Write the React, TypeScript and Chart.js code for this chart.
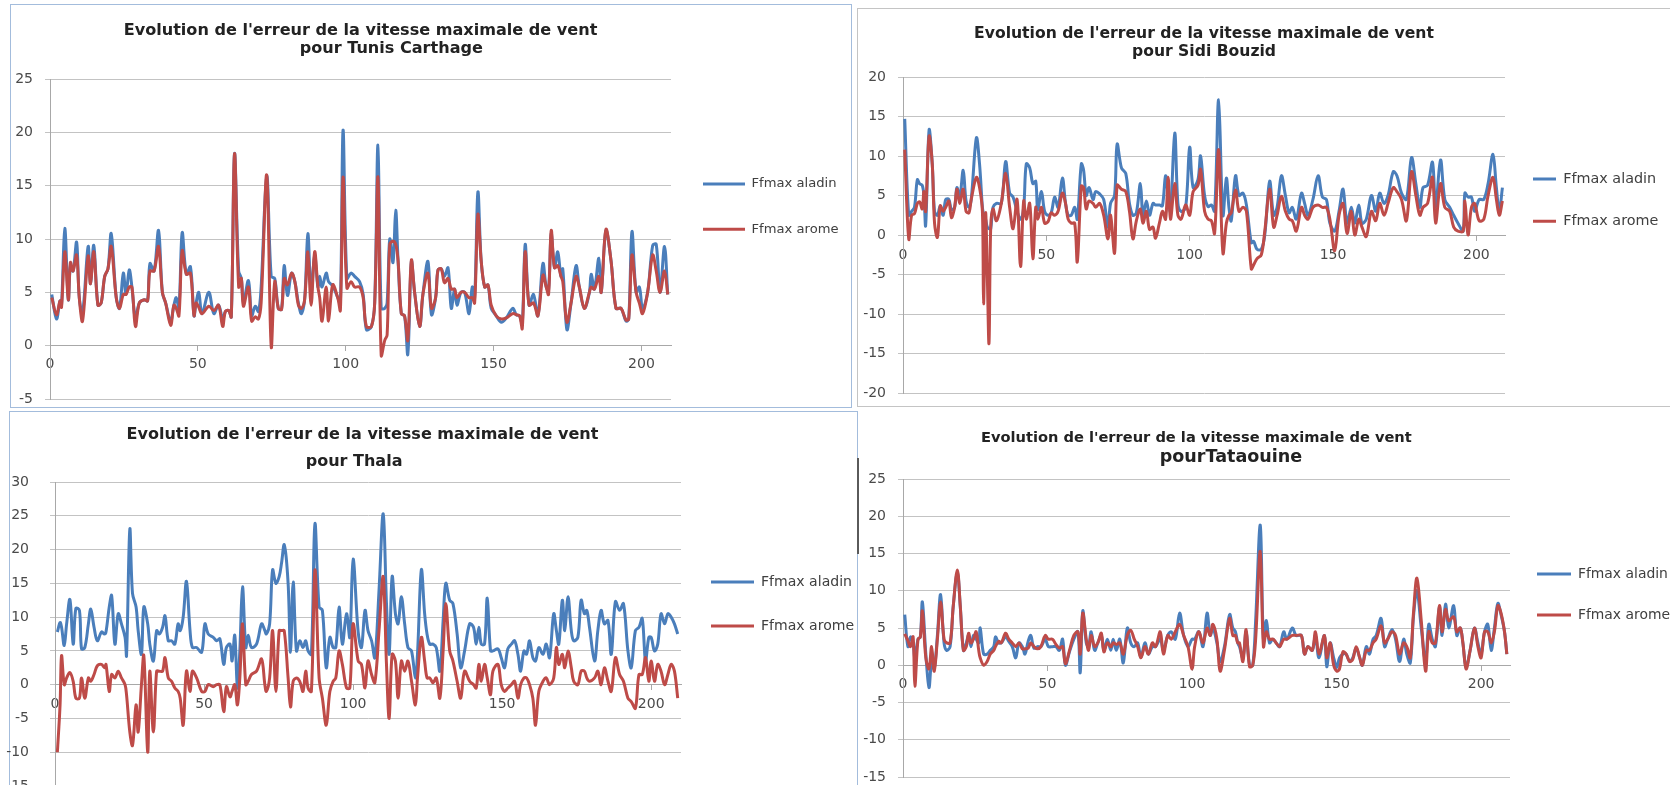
import React, { useEffect, useRef } from "react";
import { Chart, registerables } from "chart.js";

Chart.register(...registerables);

const SERIES_LABELS = ["Ffmax aladin", "Ffmax arome"];
const SERIES_COLORS = ["#4a7ebb", "#be4b48"];
const TITLE_MAIN = "Evolution de l'erreur de la vitesse maximale de vent";
const X_MIN = 0;
const X_MAX = 210;
const X_STEP = 50;
const Y_STEP = 5;

const GRID = "#c3c3c3";
const AXIS = "#a8a8a8";
const TICK_COLOR = "#4a4a4a";
const TITLE_COLOR = "#222222";
const LEGEND_COLOR = "#404040";
const FONT = "'DejaVu Sans', sans-serif";

// ---------------- Tunis Carthage ----------------
const tunisX = [
  0.6, 2.2, 3.4, 3.9, 5.0, 6.2, 6.9, 7.8, 9.0, 9.9,
  11.0, 12.9, 13.7, 14.8, 16.2, 17.3, 18.5, 19.6, 20.7, 22.4,
  23.5, 24.8, 25.7, 26.8, 27.7, 28.9, 30.2, 31.9, 33.0, 33.8,
  35.2, 36.7, 38.0, 39.1, 40.8, 41.9, 42.7, 43.6, 44.7, 46.1,
  47.5, 48.7, 49.4, 50.3, 51.4, 53.7, 55.4, 57.0, 58.4, 59.3,
  60.4, 61.3, 62.4, 63.8, 64.7, 65.4, 67.1, 68.2, 69.4, 70.5,
  71.4, 73.3, 74.8, 76.0, 77.2, 78.3, 79.2, 80.3, 81.7, 82.8,
  84.0, 85.0, 86.1, 87.2, 88.3, 89.5, 90.6, 91.2, 92.0, 93.4,
  94.2, 95.6, 97.3, 98.2, 99.1, 100.4, 101.8, 103.0, 104.7, 105.9,
  107.0, 108.7, 109.8, 110.9, 112.0, 113.2, 114.0, 114.9, 116.0, 116.9,
  117.7, 118.8, 119.9, 121.0, 122.2, 123.3, 125.0, 126.1, 127.8, 129.0,
  130.4, 131.2, 132.3, 133.4, 134.6, 135.7, 136.8, 137.6, 139.0, 140.2,
  141.7, 142.8, 143.6, 144.7, 145.8, 147.0, 148.1, 149.2, 150.9, 152.6,
  154.3, 156.5, 157.7, 158.8, 159.7, 160.7, 162.0, 163.5, 165.0, 166.7,
  167.8, 168.6, 169.5, 170.6, 171.7, 172.8, 173.4, 174.8, 176.2, 177.9,
  179.0, 180.7, 182.4, 183.0, 184.1, 185.6, 186.4, 188.0, 189.7, 191.4,
  193.1, 194.8, 195.7, 196.8, 198.2, 199.3, 200.4, 202.1, 203.8, 205.0,
  206.3, 207.8, 208.9,
];
const tunisAladin = [
  4.8, 2.5, 4.2, 3.8, 11.0, 4.3, 7.5, 7.0, 9.7, 4.5,
  3.0, 9.3, 5.8, 9.4, 3.8, 4.0, 6.5, 7.2, 10.5, 4.5,
  3.5, 6.8, 4.8, 7.1, 5.5, 2.5, 4.0, 4.3, 4.2, 7.7,
  7.0, 10.8, 5.0, 4.0, 2.3, 3.8, 4.5, 3.5, 10.6, 6.7,
  7.4, 2.8, 4.0, 5.0, 3.0, 5.0, 3.0, 3.8, 2.5, 3.2,
  3.3, 2.7, 18.0, 7.0, 6.3, 4.0, 6.1, 2.8, 3.7, 3.2,
  5.5, 15.9, 6.5, 6.3, 3.5, 3.4, 7.5, 4.7, 6.8, 6.0,
  4.0, 3.0, 4.3, 10.5, 5.0, 8.5, 5.5, 6.5, 5.5, 6.8,
  6.0, 5.6, 4.5, 4.0, 20.2, 6.3, 6.8, 6.5, 6.0, 4.8,
  1.5, 1.8, 4.0, 18.8, 3.5, 3.5, 4.0, 10.0, 7.8, 12.7,
  8.0, 3.0, 2.8, -0.8, 7.9, 5.0, 1.8, 4.8, 7.9, 2.9,
  4.5, 7.1, 7.2, 6.5, 7.3, 3.5, 5.3, 3.8, 5.0, 5.0,
  3.0, 5.5, 4.5, 14.4, 8.0, 5.5, 5.7, 3.5, 2.8, 2.2,
  2.6, 3.5, 2.9, 2.8, 2.0, 9.5, 3.8, 4.8, 2.8, 7.7,
  5.5, 5.2, 10.5, 7.3, 8.8, 6.5, 7.2, 1.5, 4.0, 7.5,
  5.5, 3.5, 5.0, 6.7, 5.3, 8.2, 5.0, 10.8, 8.0, 3.5,
  3.5, 2.3, 2.5, 10.7, 5.0, 5.5, 3.5, 5.0, 9.4, 9.5,
  5.0, 9.3, 4.8,
];
const tunisArome = [
  4.5, 2.9, 4.2, 3.6, 8.8, 4.3, 7.8, 7.0, 8.5, 4.5,
  2.3, 8.4, 5.8, 8.8, 3.8, 4.0, 6.5, 7.2, 9.3, 4.5,
  3.5, 4.8, 4.8, 5.5, 5.5, 1.8, 4.0, 4.3, 4.2, 7.0,
  7.0, 9.3, 5.0, 4.0, 1.9, 3.8, 3.5, 2.8, 8.9, 6.7,
  6.8, 2.8, 4.0, 3.6, 3.0, 3.7, 3.3, 3.8, 1.8, 3.2,
  3.3, 2.7, 18.0, 5.5, 6.3, 3.7, 5.5, 2.3, 2.7, 2.5,
  4.0, 16.0, -0.1, 6.0, 3.5, 3.4, 6.3, 5.7, 6.8, 6.0,
  3.8, 3.5, 4.3, 8.8, 3.8, 8.8, 5.5, 4.5, 2.3, 5.5,
  2.3, 5.7, 4.5, 3.3, 15.8, 5.4, 6.0, 5.5, 5.5, 4.5,
  1.8, 1.8, 4.0, 15.8, -0.9, 0.5, 1.0, 9.5, 9.8, 9.5,
  8.0, 3.0, 2.8, 0.5, 8.0, 5.0, 1.8, 4.8, 6.8, 3.5,
  4.5, 7.1, 7.2, 5.9, 6.3, 5.3, 5.3, 4.5, 5.0, 5.0,
  4.5, 4.5, 4.0, 12.3, 8.0, 5.5, 5.7, 3.8, 2.8, 2.5,
  2.6, 3.0, 2.9, 2.8, 1.6, 8.8, 3.8, 4.0, 2.8, 6.6,
  5.5, 4.8, 10.8, 7.3, 7.5, 6.5, 6.0, 2.2, 4.0, 6.5,
  5.5, 3.5, 5.0, 5.5, 5.3, 6.5, 5.0, 10.9, 8.0, 3.5,
  3.5, 2.4, 2.5, 8.5, 5.0, 4.0, 3.0, 5.0, 8.5, 7.0,
  5.0, 7.0, 4.8,
];

// ---------------- Sidi Bouzid ----------------
const sidiX = [
  0.6, 2.0, 3.0, 4.0, 5.0, 5.8, 6.7, 7.3, 7.9, 9.1,
  10.2, 11.0, 12.0, 13.0, 14.0, 14.9, 16.0, 16.9, 18.0, 18.8,
  19.8, 21.0, 22.0, 23.0, 23.8, 25.6, 26.7, 27.7, 28.1, 28.8,
  29.4, 30.0, 30.6, 31.4, 32.6, 34.3, 35.8, 37.2, 38.4, 39.8,
  41.0, 42.1, 43.0, 44.2, 45.3, 46.3, 47.0, 48.3, 49.4, 50.6,
  51.7, 52.9, 54.1, 55.6, 56.7, 57.6, 58.7, 59.9, 60.8, 62.2,
  63.0, 63.9, 64.9, 66.3, 67.2, 68.6, 70.0, 71.5, 72.4, 73.8,
  74.7, 76.2, 77.7, 79.0, 80.2, 81.4, 82.8, 83.7, 84.9, 86.0,
  87.2, 88.1, 89.5, 90.5, 91.6, 92.5, 93.3, 94.8, 95.9, 97.0,
  98.6, 100.0, 101.2, 102.9, 103.8, 105.2, 106.4, 107.6, 108.7, 110.1,
  111.6, 112.8, 113.7, 114.5, 116.0, 117.2, 118.6, 119.8, 121.5, 122.3,
  123.5, 125.0, 126.2, 127.9, 129.3, 130.5, 132.0, 133.4, 134.7, 135.8,
  137.2, 139.0, 140.1, 141.3, 143.0, 144.8, 146.3, 147.7, 148.9, 150.6,
  152.1, 153.5, 154.9, 156.4, 157.6, 159.0, 160.1, 161.6, 163.4, 164.9,
  166.3, 167.8, 169.2, 171.0, 172.3, 173.9, 175.6, 177.4, 178.9, 180.3,
  181.4, 183.0, 184.7, 185.8, 187.5, 189.0, 190.7, 192.1, 193.6, 195.4,
  196.0, 197.1, 198.3, 199.4, 201.0, 202.6, 204.1, 205.8, 207.0, 208.0,
  209.1,
];
const sidiAladin = [
  14.7, 2.5, 3.0, 3.5, 7.0, 6.5, 6.3, 5.0, 1.2, 13.3,
  9.0, 3.0, 2.5, 3.7, 2.5, 4.5, 4.5, 3.2, 3.5, 6.0,
  4.8, 8.2, 4.3, 3.5, 4.5, 12.3, 9.0, 3.5, 2.7, 2.0,
  1.0, 0.8, 0.8, 3.5, 4.0, 4.0, 9.3, 5.3, 4.8, 3.0,
  2.0, 3.5, 9.0, 8.5, 6.5, 6.8, 3.2, 5.5, 3.0, 2.5,
  2.8, 4.8, 3.5, 7.2, 4.0, 2.5, 2.5, 3.5, 2.0, 9.0,
  8.2, 5.0, 6.0, 4.5, 5.5, 5.2, 4.5, 1.0, 4.0, 5.0,
  11.5, 8.5, 7.8, 4.0, 2.5, 2.8, 6.5, 2.5, 4.3, 2.5,
  4.0, 3.8, 3.8, 3.7, 7.5, 5.0, 3.0, 12.9, 4.0, 3.0,
  3.5, 11.1, 6.0, 7.0, 10.0, 5.0, 3.6, 3.8, 3.0, 17.1,
  2.5, 7.2, 3.5, 1.8, 7.5, 5.0, 5.3, 3.8, -1.0, -0.8,
  -1.8, -1.8, 0.0, 6.8, 2.5, 3.5, 7.5, 5.0, 2.8, 3.5,
  2.0, 5.3, 4.0, 2.5, 4.5, 7.5, 4.8, 4.5, 1.5, 0.5,
  3.0, 5.8, 1.5, 3.5, 1.5, 3.8, 1.5, 2.0, 5.0, 3.0,
  5.3, 4.0, 5.0, 8.0, 7.5, 5.3, 4.5, 9.8, 6.5, 3.5,
  6.0, 6.3, 9.2, 3.5, 9.5, 4.5, 3.5, 2.5, 1.5, 0.5,
  5.3, 4.8, 4.8, 3.0, 4.5, 4.5, 6.5, 10.2, 6.0, 3.0,
  6.0,
];
const sidiArome = [
  10.8, -0.5, 2.5, 2.7, 4.0, 4.2, 3.3, 5.5, 3.0, 12.5,
  9.0, 1.5, -0.3, 3.7, 3.0, 3.5, 4.3, 2.2, 3.5, 5.8,
  4.0, 5.8, 3.0, 2.8, 4.5, 7.3, 6.0, 3.0, -8.7, 2.8,
  -5.0, -13.7, 1.0, 3.3, 1.8, 4.0, 7.8, 3.5, 0.8, 4.5,
  -4.0, 4.3, 2.0, 4.0, -3.0, 3.5, 2.0, 3.5, 1.5, 1.7,
  2.8, 2.5, 3.0, 5.3, 4.0, 2.0, 1.5, 1.5, -3.4, 6.2,
  6.0, 3.3, 4.3, 4.0, 3.5, 4.0, 2.5, -0.5, 2.5, -2.3,
  6.3, 5.8, 5.5, 3.0, -0.5, 1.8, 3.3, 1.5, 3.0, 0.7,
  1.0, -0.4, 1.6, 3.0, 2.0, 7.3, 2.0, 6.5, 2.5, 2.0,
  3.8, 2.5, 5.5, 6.3, 8.3, 3.0, 2.0, 1.8, 0.2, 10.8,
  -2.3, 1.5, 2.5, 2.8, 5.7, 3.0, 3.5, 3.0, -4.3, -3.8,
  -3.0, -2.5, 0.5, 5.8, 1.0, 2.5, 4.9, 3.0, 2.0, 1.8,
  0.5, 3.5, 2.5, 2.0, 3.5, 3.8, 3.5, 3.5, 2.0, -2.0,
  2.5, 4.0, 0.2, 3.0, 0.0, 2.0, 1.0, -0.2, 3.0, 1.8,
  4.0, 2.5, 4.0, 6.0, 5.5, 4.5, 1.8, 8.0, 5.0, 2.5,
  3.5, 4.0, 7.3, 1.5, 6.5, 3.5, 3.0, 1.0, 0.5, 0.5,
  4.3, 0.0, 3.5, 4.0, 1.8, 2.0, 5.0, 7.3, 4.5, 2.5,
  4.3,
];

// ---------------- Thala ----------------
const thalaX = [
  0.8, 1.7, 2.2, 3.1, 3.9, 5.0, 6.1, 7.0, 8.2, 8.9,
  10.0, 11.2, 12.0, 13.1, 14.2, 15.6, 16.6, 17.1, 18.2, 19.0,
  20.1, 21.2, 22.3, 23.5, 24.0, 25.1, 26.0, 27.2, 27.9, 29.0,
  29.8, 31.1, 31.8, 33.0, 34.1, 35.0, 36.1, 36.9, 38.0, 39.1,
  40.2, 41.3, 42.0, 43.0, 44.1, 45.3, 46.1, 47.5, 49.2, 50.3,
  51.4, 53.1, 54.2, 55.3, 56.6, 57.5, 58.7, 59.4, 60.3, 61.2,
  62.0, 62.9, 64.0, 64.8, 65.9, 67.6, 69.3, 70.4, 70.9, 72.0,
  73.0, 74.1, 75.2, 76.0, 76.9, 78.2, 79.0, 79.9, 81.0, 82.1,
  83.2, 84.1, 84.9, 86.0, 87.2, 88.6, 89.7, 91.0, 92.2, 93.3,
  94.2, 95.3, 96.4, 97.8, 98.9, 100.0, 101.7, 102.8, 104.0, 105.0,
  106.2, 107.3, 108.7, 110.1, 111.2, 112.1, 113.1, 114.2, 115.1, 116.2,
  117.3, 118.4, 119.6, 120.9, 121.6, 122.9, 124.0, 124.8, 125.7, 126.8,
  127.9, 129.1, 130.2, 131.1, 132.4, 133.5, 134.9, 136.1, 137.4, 139.1,
  140.4, 141.3, 142.2, 143.0, 144.1, 145.0, 146.1, 146.9, 148.6, 149.7,
  150.8, 151.9, 153.1, 154.2, 155.3, 156.2, 157.3, 158.2, 159.2, 160.3,
  161.2, 162.3, 163.7, 164.8, 165.9, 167.3, 168.2, 169.0, 170.2, 171.0,
  172.1, 173.2, 174.0, 175.4, 176.5, 177.6, 178.4, 179.3, 181.0, 182.1,
  183.2, 184.3, 185.5, 186.6, 188.0, 189.4, 190.7, 192.2, 193.3, 194.7,
  195.9, 197.0, 198.1, 199.2, 200.0, 201.1, 202.2, 203.3, 204.5, 205.6,
  206.7, 207.8, 208.9,
];
const thalaAladin = [
  7.8, 9.2, 8.5, 5.8, 9.0, 12.6, 6.0, 11.3, 11.0, 5.3,
  5.5, 9.0, 11.2, 8.5, 6.5, 7.8, 7.5, 7.8, 11.5, 13.2,
  6.0, 10.5, 9.0, 7.0, 4.3, 23.0, 13.5, 11.5, 8.0, 4.5,
  11.5, 9.0, 6.0, 3.5, 8.0, 7.5, 8.5, 10.2, 6.5, 6.5,
  6.0, 9.0, 8.0, 10.0, 15.3, 8.0, 5.5, 5.5, 4.8, 9.0,
  7.5, 7.0, 6.5, 6.8, 3.0, 5.5, 6.0, 3.5, 7.3, -0.5,
  5.0, 14.5, 5.5, 7.3, 5.5, 6.0, 9.0, 8.0, 7.5, 9.0,
  17.0, 15.0, 16.0, 18.0, 20.7, 15.0, 4.8, 15.2, 5.0, 6.5,
  5.5, 6.5, 5.0, 4.5, 23.8, 11.5, 11.0, 2.5, 7.0, 5.5,
  5.5, 11.5, 6.0, 10.5, 7.0, 18.6, 7.8, 5.5, 11.0, 8.0,
  6.5, 4.0, 14.0, 25.3, 12.0, 4.5, 16.0, 10.5, 9.0, 13.0,
  9.0, 5.5, 5.0, 1.0, 4.5, 17.0, 10.5, 7.5, 6.0, 6.0,
  5.5, 2.0, 9.5, 15.0, 12.5, 12.0, 7.5, 2.5, 5.0, 9.0,
  8.5, 6.0, 8.5, 6.0, 6.0, 12.8, 5.0, 5.0, 5.3, 4.0,
  2.5, 5.3, 6.0, 6.5, 4.5, 2.0, 5.0, 4.5, 6.5, 4.0,
  3.5, 5.5, 4.5, 6.0, 4.0, 10.5, 8.0, 6.0, 12.5, 8.0,
  13.0, 8.0, 6.5, 7.0, 12.5, 10.5, 11.0, 8.5, 3.5, 8.0,
  11.0, 9.0, 9.5, 4.5, 12.3, 11.0, 12.0, 5.0, 2.5, 8.0,
  8.5, 9.8, 3.5, 7.0, 7.0, 5.0, 6.0, 10.5, 9.0, 10.5,
  10.0, 9.0, 7.5,
];
const thalaArome = [
  -10.0, -3.0, 4.3, 0.0, 1.0, 1.8, 0.5, -2.0, -2.0, 1.0,
  -2.0, 1.0, 0.5, 1.5, 2.8, 3.0, 2.5, 3.0, -1.0, 1.5,
  1.0, 2.0, 1.0, 0.0, -1.5, -7.0, -9.0, -3.0, -7.0, 0.0,
  4.3, -10.0, 2.0, -7.0, 2.0, 2.0, 2.0, 4.0, 1.0, 0.5,
  -0.5, -1.0, -2.0, -6.0, 2.0, -1.0, 2.0, 1.0, -1.0, -1.0,
  0.0, -0.3, 0.0, 0.0, -4.0, -0.3, -1.8, -1.0, 0.0, -3.0,
  1.0, 9.0, 0.0, 0.5, 1.5, 2.0, 3.8, 0.0, -1.0, 1.0,
  8.0, -1.0, 8.0, 8.0, 8.0, 1.0, -3.3, 0.5, 1.0, 0.5,
  -1.0, 2.0, -0.5, -1.0, 17.0, 1.0, -2.0, -6.0, -1.0, 0.5,
  1.0, 5.0, 3.0, -0.5, -0.5, 9.0, 3.5, 3.0, -0.5, 3.5,
  1.5, 0.3, 8.0, 16.0, 3.0, -5.0, 4.5, 3.5, -2.0, 3.5,
  2.0, 3.5, 0.5, -3.0, 1.0, 7.0, 3.5, 1.0, 1.0, 0.3,
  1.0, -2.0, 5.0, 12.0, 5.0, 3.5, 0.5, -2.0, 2.0, 0.5,
  0.0, -0.5, 3.0, 0.5, 3.0, 1.0, -1.5, 2.0, 3.0, 0.0,
  -1.0, -0.5, 0.0, 0.5, -2.0, 0.0, 1.0, 1.0, 0.0, -2.0,
  -6.0, -1.0, 0.5, 1.0, 0.0, 1.0, 5.5, 3.0, 4.5, 2.5,
  5.0, 2.5, 0.5, 0.0, 2.0, 2.0, 1.0, 0.5, 1.0, 2.0,
  0.0, 2.5, 0.5, -1.0, 4.0, 1.5, 0.5, -2.0, -2.5, -3.5,
  1.5, 1.5, 4.0, 0.5, 3.5, 0.5, 3.0, 2.0, 0.0, 1.5,
  3.0, 2.0, -2.0,
];

// ---------------- Tataouine ----------------
const tataX = [
  0.6, 1.7, 2.6, 3.5, 4.1, 5.2, 6.0, 6.7, 7.9, 9.0,
  9.9, 10.8, 11.9, 13.0, 14.2, 15.1, 16.3, 17.4, 18.8, 19.8,
  20.9, 21.9, 22.7, 23.5, 24.4, 25.3, 26.2, 26.7, 27.9, 29.1,
  30.2, 31.4, 32.0, 33.1, 34.0, 35.5, 36.6, 37.8, 39.0, 40.1,
  41.3, 42.2, 43.3, 44.2, 45.3, 46.5, 47.7, 49.2, 50.3, 51.7,
  52.9, 54.1, 55.2, 56.2, 57.6, 59.1, 60.5, 61.3, 62.2, 63.4,
  64.2, 65.1, 66.3, 67.4, 68.6, 69.5, 70.7, 71.9, 72.7, 73.8,
  75.0, 76.2, 77.6, 78.8, 80.0, 81.2, 82.3, 83.7, 84.9, 86.3,
  87.4, 89.0, 90.1, 91.6, 92.8, 94.2, 95.7, 97.1, 98.6, 100.0,
  100.9, 102.3, 103.8, 105.2, 106.3, 107.2, 108.6, 109.7, 111.2, 113.0,
  114.1, 115.0, 115.8, 116.4, 117.6, 118.7, 119.9, 121.0, 122.0, 123.6,
  124.7, 125.7, 126.8, 128.0, 129.1, 130.3, 131.7, 132.8, 134.7, 136.0,
  137.8, 138.9, 140.1, 141.6, 142.7, 143.9, 145.8, 146.6, 147.8, 149.0,
  150.1, 151.0, 152.2, 153.3, 154.5, 155.6, 156.8, 158.0, 158.9, 160.3,
  161.4, 162.6, 163.7, 165.4, 166.6, 167.7, 169.2, 170.4, 171.8, 173.2,
  174.3, 175.5, 176.6, 177.8, 179.3, 180.8, 181.9, 183.1, 184.2, 185.6,
  186.5, 187.7, 188.8, 190.5, 191.6, 192.8, 193.7, 194.8, 196.2, 197.7,
  198.9, 200.0, 201.2, 202.3, 203.5, 204.6, 205.8, 206.9, 208.1, 208.9,
];
const tataAladin = [
  6.8, 2.5, 3.8, 3.0, 1.0, 3.5, 3.8, 8.5, 1.5, -3.0,
  0.5, -0.5, 4.0, 9.5, 3.0, 2.0, 2.5, 8.0, 12.5, 8.0,
  2.0, 3.0, 4.0, 2.5, 4.0, 3.5, 3.0, 5.0, 1.5, 1.5,
  2.0, 2.5, 3.8, 3.0, 3.0, 3.8, 3.2, 2.5, 1.0, 3.0,
  2.5, 1.5, 3.2, 4.0, 2.3, 2.5, 2.5, 3.5, 2.5, 2.5,
  2.5, 2.0, 3.5, 0.0, 1.8, 3.5, 4.5, -1.0, 7.3, 3.0,
  2.5, 4.5, 2.0, 3.0, 4.0, 2.0, 3.5, 2.0, 3.5, 2.0,
  3.5, 0.3, 5.0, 3.0, 2.5, 3.0, 1.0, 3.0, 1.5, 2.5,
  2.5, 3.5, 2.0, 4.0, 4.5, 3.5, 7.0, 4.0, 2.5, 3.5,
  3.5, 4.5, 2.5, 7.0, 4.0, 5.0, 3.0, 0.5, 2.5, 6.8,
  5.0, 4.5, 3.0, 2.5, 1.0, 4.5, 0.0, 0.0, 6.0, 18.8,
  3.5, 6.0, 3.0, 3.5, 3.0, 2.5, 4.5, 3.5, 5.0, 4.0,
  4.0, 1.5, 2.5, 2.0, 4.0, 1.0, 4.0, -0.2, 3.0, 1.0,
  -0.3, 1.0, 1.5, 1.5, 0.5, 1.0, 2.3, 1.0, 0.0, 2.5,
  1.5, 3.5, 4.0, 6.3, 2.5, 3.5, 4.8, 3.5, 0.5, 3.5,
  1.5, 0.3, 6.5, 10.0, 5.0, 0.5, 5.5, 3.5, 2.5, 7.8,
  4.0, 8.2, 5.0, 8.0, 4.0, 5.0, 3.0, -0.3, 2.0, 5.0,
  3.0, 1.5, 4.5, 5.5, 2.0, 5.0, 8.3, 6.8, 4.5, 1.5,
];
const tataArome = [
  4.2, 3.3, 2.5, 3.8, -2.8, 3.5, 3.8, 7.3, 1.0, -0.5,
  2.5, -0.8, 3.5, 8.5, 3.5, 3.0, 3.0, 8.0, 12.8, 8.0,
  2.0, 2.5, 4.3, 3.0, 3.5, 4.5, 2.0, 1.0, 0.0, 0.5,
  1.5, 2.0, 2.5, 3.2, 3.0, 4.3, 3.5, 3.0, 2.5, 3.0,
  2.2, 2.2, 2.3, 3.0, 2.5, 2.2, 2.5, 4.0, 3.5, 3.5,
  2.8, 2.3, 2.5, 0.2, 2.0, 4.0, 4.5, 1.5, 7.0, 3.5,
  2.0, 4.0, 2.5, 3.0, 4.3, 1.8, 3.0, 2.5, 3.0, 2.8,
  3.0, 1.5, 4.0, 4.7, 3.5, 2.5, 1.0, 2.5, 1.5, 3.0,
  2.5, 4.5, 1.5, 4.0, 3.5, 4.5, 5.5, 4.0, 2.5, -0.5,
  2.5, 4.5, 3.0, 5.0, 4.0, 5.5, 3.5, -0.8, 2.0, 6.3,
  4.0, 4.0, 3.0, 3.0, 0.5, 4.8, -0.2, 0.0, 3.5, 15.3,
  2.5, 4.5, 3.5, 3.5, 3.0, 2.5, 3.5, 3.5, 4.0, 4.0,
  4.0, 1.5, 2.5, 2.0, 4.5, 1.5, 4.0, 1.0, 3.0, 0.0,
  -0.8, -0.5, 1.8, 1.5, 0.5, 0.8, 2.5, 1.0, 0.0, 2.0,
  2.0, 3.0, 3.5, 5.3, 3.0, 3.5, 4.5, 4.0, 1.5, 3.0,
  2.5, 1.0, 7.0, 11.7, 6.0, -0.8, 4.5, 3.0, 3.0, 8.0,
  4.5, 7.5, 6.0, 6.5, 4.5, 5.0, 3.0, -0.5, 2.0, 5.0,
  2.5, 1.0, 4.5, 4.5, 3.0, 4.5, 8.0, 7.0, 4.5, 1.5,
];

type Panel = {
  key: string;
  xs: number[];
  aladin: number[];
  arome: number[];
  titleLine: string;
  subtitle: string;
  subScale: number;
  titleTarget: number;
  yMin: number;
  yMax: number;
  canvasLeft: number;
  canvasTop: number;
  canvasRight: number;
  canvasBottom: number;
  plotLeft: number;
  plotRight: number;
  plotTop: number;
  plotBottom: number;
  title1Y: number;
  title2Y: number;
  yLabelRight: number;
  xTickPad: number;
  legendLineX: number;
  legendFirstY: number;
  legendBoxWidth: number;
  legendTextTarget: number;
};

const PANELS: Panel[] = [
  {
    key: "tunis",
    xs: tunisX, aladin: tunisAladin, arome: tunisArome,
    titleLine: TITLE_MAIN,
    subtitle: "           pour Tunis Carthage",
    subScale: 1,
    titleTarget: 474,
    yMin: -5, yMax: 25,
    canvasLeft: 0, canvasTop: 10, canvasRight: 860, canvasBottom: 409,
    plotLeft: 50, plotRight: 671, plotTop: 79, plotBottom: 399,
    title1Y: 31, title2Y: 49,
    yLabelRight: 33, xTickPad: 5,
    legendLineX: 703, legendFirstY: 184, legendBoxWidth: 42, legendTextTarget: 85,
  },
  {
    key: "sidi",
    xs: sidiX, aladin: sidiAladin, arome: sidiArome,
    titleLine: TITLE_MAIN,
    subtitle: "pour Sidi Bouzid",
    subScale: 1,
    titleTarget: 460,
    yMin: -20, yMax: 20,
    canvasLeft: 858, canvasTop: 12, canvasRight: 1670, canvasBottom: 405,
    plotLeft: 903, plotRight: 1505, plotTop: 77, plotBottom: 393,
    title1Y: 34, title2Y: 52,
    yLabelRight: 886, xTickPad: 7,
    legendLineX: 1533, legendFirstY: 179, legendBoxWidth: 23, legendTextTarget: 93,
  },
  {
    key: "thala",
    xs: thalaX, aladin: thalaAladin, arome: thalaArome,
    titleLine: TITLE_MAIN + "  ",
    subtitle: "pour Thala     ",
    subScale: 1,
    titleTarget: 472,
    yMin: -15, yMax: 30,
    canvasLeft: 0, canvasTop: 413, canvasRight: 860, canvasBottom: 801,
    plotLeft: 55, plotRight: 681, plotTop: 482, plotBottom: 786,
    title1Y: 435, title2Y: 462,
    yLabelRight: 29, xTickPad: 6,
    legendLineX: 711, legendFirstY: 582, legendBoxWidth: 43, legendTextTarget: 91,
  },
  {
    key: "tataouine",
    xs: tataX, aladin: tataAladin, arome: tataArome,
    titleLine: TITLE_MAIN + "    ",
    subtitle: "        pourTataouine",
    subScale: 1.2,
    titleTarget: 431,
    yMin: -15, yMax: 25,
    canvasLeft: 860, canvasTop: 418, canvasRight: 1670, canvasBottom: 785,
    plotLeft: 903, plotRight: 1510, plotTop: 479, plotBottom: 777,
    title1Y: 438, title2Y: 457,
    yLabelRight: 886, xTickPad: 6,
    legendLineX: 1537, legendFirstY: 574, legendBoxWidth: 34, legendTextTarget: 90,
  },
];

const TICK_LEN = 5;
const LINE_H = 18;

let measureCtx: CanvasRenderingContext2D | null = null;
function measure(text: string, font: string): number {
  if (!measureCtx) measureCtx = document.createElement("canvas").getContext("2d");
  if (!measureCtx) return text.length * 8;
  measureCtx.font = font;
  return measureCtx.measureText(text).width;
}
const clamp = (v: number, lo: number, hi: number) => Math.max(lo, Math.min(hi, v));

function buildConfig(p: Panel): any {
  const toPoints = (vals: number[]) => p.xs.map((x, i) => ({ x, y: vals[i] }));

  const titleMeasured = measure(TITLE_MAIN, `bold 16px ${FONT}`);
  const titleSize = clamp((16 * p.titleTarget) / titleMeasured, 14, 19);
  const subSize = titleSize * p.subScale;

  const legMeasured = measure(SERIES_LABELS[0], `13px ${FONT}`);
  const legSize = clamp((13 * p.legendTextTarget) / legMeasured, 12, 15.5);
  const legTextW = Math.max(
    measure(SERIES_LABELS[0], `${legSize}px ${FONT}`),
    measure(SERIES_LABELS[1], `${legSize}px ${FONT}`)
  );
  const legPadding = p.legendLineX - p.plotRight;
  const legWidth = legPadding + p.legendBoxWidth + legSize / 2 + legTextW + 10;
  const legGap = p.legendFirstY - p.plotTop - legPadding - legSize / 2 - 10;

  const titlePadTop = p.title1Y - p.canvasTop - LINE_H / 2;
  const titleBottom = p.canvasTop + titlePadTop + LINE_H;
  const subPadTop = Math.max(0, p.title2Y - LINE_H / 2 - titleBottom);
  const subPadBottom = p.plotTop - (p.title2Y + LINE_H / 2);

  // the y axis box spans from the canvas edge up to the plot, so its labels are never clipped
  const yAxisWidth = p.plotLeft - p.canvasLeft;
  const padding = {
    left: 0,
    top: 0,
    right: p.canvasRight - p.plotRight - legWidth,
    bottom: p.canvasBottom - p.plotBottom,
  };

  const lineCommon = {
    borderWidth: 3,
    pointRadius: 0,
    pointHoverRadius: 0,
    tension: 0.35,
    fill: false,
  };

  return {
    type: "line",
    data: {
      datasets: [
        {
          ...lineCommon,
          label: SERIES_LABELS[0],
          data: toPoints(p.aladin),
          borderColor: SERIES_COLORS[0],
          backgroundColor: SERIES_COLORS[0],
          order: 1,
        },
        {
          ...lineCommon,
          label: SERIES_LABELS[1],
          data: toPoints(p.arome),
          borderColor: SERIES_COLORS[1],
          backgroundColor: SERIES_COLORS[1],
          order: 0,
        },
      ],
    },
    options: {
      responsive: false,
      maintainAspectRatio: false,
      animation: false,
      events: [],
      layout: { padding },
      scales: {
        x: {
          type: "linear",
          min: X_MIN,
          max: X_MAX,
          position: { y: 0 },
          afterFit: (s: any) => {
            s.height = 0;
            s.paddingLeft = 0;
            s.paddingRight = 0;
          },
          grid: {
            display: true,
            drawOnChartArea: false,
            drawTicks: true,
            tickLength: TICK_LEN,
            color: AXIS,
          },
          border: { display: true, color: AXIS, width: 1 },
          ticks: {
            stepSize: X_STEP,
            includeBounds: false,
            autoSkip: false,
            maxRotation: 0,
            padding: p.xTickPad,
            color: TICK_COLOR,
            font: { family: FONT, size: 14 },
          },
        },
        y: {
          type: "linear",
          position: "left",
          min: p.yMin,
          max: p.yMax,
          afterFit: (s: any) => {
            s.width = yAxisWidth;
            s.paddingTop = 0;
            s.paddingBottom = 0;
          },
          grid: {
            color: GRID,
            lineWidth: 1,
            drawTicks: true,
            tickLength: TICK_LEN,
          },
          border: { display: true, color: AXIS, width: 1 },
          ticks: {
            stepSize: Y_STEP,
            padding: p.plotLeft - TICK_LEN - p.yLabelRight,
            color: TICK_COLOR,
            font: { family: FONT, size: 14 },
          },
        },
      },
      plugins: {
        tooltip: { enabled: false },
        title: {
          display: true,
          text: p.titleLine,
          fullSize: false,
          align: "center",
          color: TITLE_COLOR,
          font: { family: FONT, size: titleSize, weight: "bold", lineHeight: `${LINE_H}px` },
          padding: { top: titlePadTop, bottom: 0 },
        },
        subtitle: {
          display: true,
          text: p.subtitle,
          fullSize: false,
          align: "center",
          color: TITLE_COLOR,
          font: { family: FONT, size: subSize, weight: "bold", lineHeight: `${LINE_H}px` },
          padding: { top: subPadTop, bottom: subPadBottom },
        },
        legend: {
          display: true,
          position: "right",
          align: "start",
          fullSize: false,
          title: {
            display: true,
            text: " ",
            font: { size: 10, lineHeight: 1 },
            padding: { top: legGap, bottom: 0 },
          },
          labels: {
            boxWidth: p.legendBoxWidth,
            boxHeight: 3,
            padding: legPadding,
            color: LEGEND_COLOR,
            font: { family: FONT, size: legSize },
            generateLabels: (chart: any) =>
              chart.data.datasets.map((ds: any, i: number) => ({
                text: ds.label,
                fillStyle: ds.borderColor,
                strokeStyle: ds.borderColor,
                lineWidth: 0,
                hidden: false,
                datasetIndex: i,
                fontColor: LEGEND_COLOR,
              })),
          },
        },
      },
    },
  };
}

function ChartPanel({ panel }: { panel: Panel }) {
  const ref = useRef<HTMLCanvasElement | null>(null);
  const width = panel.canvasRight - panel.canvasLeft;
  const height = panel.canvasBottom - panel.canvasTop;
  useEffect(() => {
    if (!ref.current) return;
    const chart = new Chart(ref.current, buildConfig(panel));
    return () => chart.destroy();
  }, [panel]);
  return (
    <canvas
      ref={ref}
      width={width}
      height={height}
      style={{
        position: "absolute",
        left: panel.canvasLeft,
        top: panel.canvasTop,
        width,
        height,
      }}
    />
  );
}

export default function App() {
  return (
    <div
      style={{
        position: "absolute",
        left: 0,
        top: 0,
        width: 1670,
        height: 785,
        overflow: "hidden",
        background: "#ffffff",
      }}
    >
      <div style={{ position: "absolute", left: 10, top: 4, width: 840, height: 402, border: "1px solid #a3bcdc" }} />
      <div style={{ position: "absolute", left: 857, top: 8, width: 830, height: 397, border: "1px solid #c4c4c4" }} />
      <div style={{ position: "absolute", left: 9, top: 411, width: 847, height: 400, border: "1px solid #a3bcdc" }} />
      <div style={{ position: "absolute", left: 857, top: 458, width: 2, height: 96, background: "#5a5a5a" }} />
      {PANELS.map((p) => (
        <ChartPanel key={p.key} panel={p} />
      ))}
    </div>
  );
}
